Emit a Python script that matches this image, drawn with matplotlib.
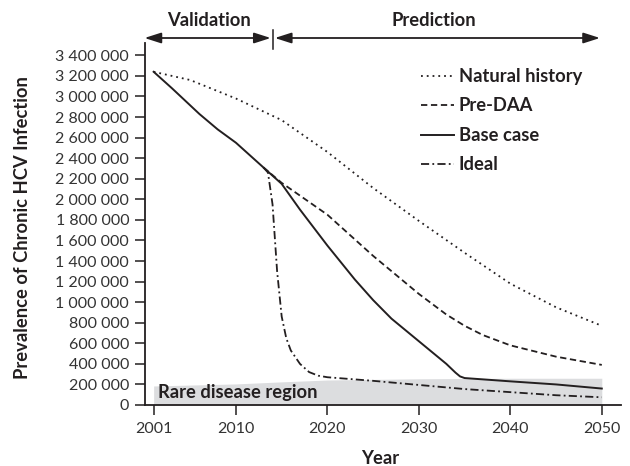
import matplotlib
matplotlib.use("Agg")
import matplotlib.pyplot as plt

plt.rcParams['font.family'] = ['Lato', 'DejaVu Sans']

# ---- data ----
years_natural = [2001, 2005, 2010, 2015, 2020, 2025, 2030, 2035, 2040, 2045, 2050]
natural_history = [3240000, 3160000, 2980000, 2770000, 2460000, 2110000, 1790000, 1480000, 1180000, 950000, 770000]

years_pre_daa = [2013, 2015, 2020, 2025, 2030, 2033, 2035, 2037, 2040, 2045, 2050]
pre_daa = [2310000, 2160000, 1850000, 1450000, 1080000, 880000, 770000, 680000, 580000, 470000, 390000]

years_base = [2001, 2003, 2006, 2008, 2010, 2012, 2013, 2014, 2015, 2017, 2020, 2023, 2025,
              2027, 2030, 2033, 2034, 2034.5, 2035, 2040, 2045, 2050]
base_case = [3240000, 3080000, 2830000, 2680000, 2550000, 2390000, 2310000, 2230000, 2150000,
             1900000, 1550000, 1220000, 1020000, 840000, 620000, 400000, 315000, 278000,
             262000, 230000, 200000, 160000]

years_ideal = [2013, 2013.5, 2014, 2014.5, 2015, 2015.5, 2016, 2017, 2018, 2019, 2020,
               2025, 2030, 2035, 2040, 2045, 2050]
ideal = [2310000, 2260000, 1950000, 1300000, 860000, 650000, 530000, 400000, 320000, 285000,
         270000, 235000, 195000, 155000, 125000, 95000, 75000]

years_rare = [2001, 2010, 2015, 2020, 2030, 2040, 2050]
rare_top = [185000, 205000, 225000, 243000, 255000, 260000, 260000]

xtick_years = [2001, 2010, 2020, 2030, 2040, 2050]
ytick_values = list(range(0, 3400001, 200000))

# ---- figure ----
W, H = 630, 466
fig = plt.figure(figsize=(W / 100, H / 100), dpi=100)
ax = fig.add_axes([144.5 / W, 1 - 405 / H, (621 - 144.5) / W, (405 - 43) / H])

ink = '#231f20'
BOLD = 13.2

ax.fill_between(years_rare, 0, rare_top, color='#dcdddf', lw=0, zorder=1)
ax.text(2001.5, 118000, 'Rare disease region', fontsize=BOLD, fontweight='bold',
        color=ink, va='center', ha='left', zorder=2)

ax.plot(years_natural, natural_history, color=ink, lw=1.3, linestyle=(0, (1, 2.2)),
        label='Natural history', zorder=3)
ax.plot(years_pre_daa, pre_daa, color=ink, lw=1.3, linestyle=(0, (3.5, 2)),
        label='Pre-DAA', zorder=3)
ax.plot(years_base, base_case, color=ink, lw=1.4, linestyle='-', label='Base case', zorder=4)
ax.plot(years_ideal, ideal, color=ink, lw=1.3, linestyle=(0, (4.5, 1.8, 1, 1.8)),
        label='Ideal', zorder=3)

ax.set_xlim(2000, 2052.1)
ax.set_ylim(0, 3520000)
ax.set_xticks(xtick_years)
ax.set_xticklabels([str(y) for y in xtick_years])
ax.set_yticks(ytick_values)
ax.set_yticklabels(['0' if v == 0 else f'{v:,}'.replace(',', ' ') for v in ytick_values])

for s in ['top', 'right']:
    ax.spines[s].set_visible(False)
for s in ['left', 'bottom']:
    ax.spines[s].set_color(ink)
    ax.spines[s].set_linewidth(1.3)
ax.tick_params(axis='both', direction='out', length=7.5, width=1.1, color=ink,
               labelsize=11.5, labelcolor='#333333')
ax.tick_params(axis='y', pad=3.5)
ax.tick_params(axis='x', pad=4.5)

leg = ax.legend(loc='upper left', bbox_to_anchor=(421 / W, 1 - 68 / H),
                bbox_transform=fig.transFigure, frameon=False,
                handlelength=1.8, handletextpad=0.25, labelspacing=0.68,
                prop={'size': BOLD, 'weight': 'bold'}, borderaxespad=0, borderpad=0)
for t in leg.get_texts():
    t.set_color(ink)

# top arrows
yarr = (405 - 38) / (405 - 43)
arrow_kw = dict(arrowstyle='<|-|>,head_length=1.0,head_width=0.32', color=ink, lw=1.3,
                shrinkA=0, shrinkB=0)
ax.annotate('', xy=(2000, yarr), xytext=(2013.8, yarr), xycoords=('data', 'axes fraction'),
            textcoords=('data', 'axes fraction'), arrowprops=arrow_kw, annotation_clip=False)
ax.annotate('', xy=(2014.25, yarr), xytext=(2049.8, yarr), xycoords=('data', 'axes fraction'),
            textcoords=('data', 'axes fraction'), arrowprops=arrow_kw, annotation_clip=False)
ax.plot([2014, 2014], [(405 - 30) / 362, (405 - 49) / 362], color=ink, lw=1.1,
        transform=ax.get_xaxis_transform(), clip_on=False)
ax.text(2007, (405 - 21) / 362, 'Validation', transform=ax.get_xaxis_transform(),
        ha='center', va='center', fontsize=BOLD, fontweight='bold', color=ink)
ax.text(2031.6, (405 - 21) / 362, 'Prediction', transform=ax.get_xaxis_transform(),
        ha='center', va='center', fontsize=BOLD, fontweight='bold', color=ink)

fig.text(23 / W, 1 - 228 / H, 'Prevalence of Chronic HCV Infection', rotation=90,
         ha='center', va='center', fontsize=BOLD, fontweight='bold', color=ink)
fig.text(380 / W, 1 - 458 / H, 'Year', ha='center', va='center', fontsize=BOLD,
         fontweight='bold', color=ink)

fig.savefig('out.png', dpi=100)
